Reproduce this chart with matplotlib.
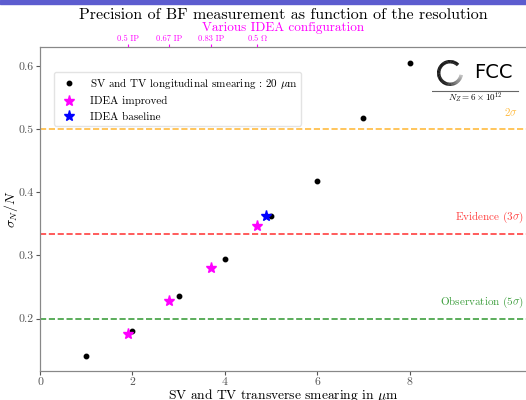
import numpy as np
import matplotlib
matplotlib.use("Agg")
import matplotlib.pyplot as plt
from matplotlib.patches import Wedge, Rectangle
from matplotlib.lines import Line2D

plt.rcParams["font.family"] = ["cmr10", "DejaVu Serif"]
plt.rcParams["mathtext.fontset"] = "cm"
plt.rcParams["axes.unicode_minus"] = False

# longitudinal smearing 20 um scan
sv_x = [1, 2, 3, 4, 5, 6, 7, 8]
sv_y = [0.141, 0.181, 0.235, 0.294, 0.363, 0.418, 0.518, 0.605]
# IDEA configurations
imp_x = [1.9, 2.8, 3.7, 4.7]
imp_y = [0.176, 0.228, 0.280, 0.346]
base_x = [4.9]
base_y = [0.363]
config_labels = ["0.5 IP", "0.67 IP", "0.83 IP", r"0.5 $\Omega$"]

# significance levels
sig_vals = [0.5, 1 / 3, 0.2]
sig_labels = [r"$2\sigma$", r"Evidence $(3\sigma)$", r"Observation $(5\sigma)$"]
sig_colors = ["orange", "red", "green"]
sig_xpos = [10.34, 10.47, 10.47]

fig = plt.figure(figsize=(5.26, 4.0), dpi=100)
ax = fig.add_axes([40 / 526, 29 / 400, 486 / 526, 324 / 400])

for v, lab, c, xp in zip(sig_vals, sig_labels, sig_colors, sig_xpos):
    ax.axhline(v, color=c, ls="--", lw=1.2, alpha=0.75, zorder=1)
    ax.annotate(lab, (xp, v), xytext=(0, 12), textcoords="offset points",
                ha="right", va="center", color=c, alpha=0.75, fontsize=8)

ax.plot(sv_x, sv_y, "o", color="black", ms=3.2, ls="none",
        label=r"SV and TV longitudinal smearing : 20 $\mu$m", zorder=3)
ax.plot(imp_x, imp_y, "*", color="magenta", ms=8, ls="none",
        label="IDEA improved", zorder=3)
ax.plot(base_x, base_y, "*", color="blue", ms=8, ls="none",
        label="IDEA baseline", zorder=3)

ax.set_xlim(0, 10.52)
ax.set_ylim(0.117, 0.63)
ax.set_xticks([0, 2, 4, 6, 8])
ax.set_xticklabels(["0", "2", "4", "6", "8"])
ax.set_yticks([0.2, 0.3, 0.4, 0.5, 0.6])
ax.set_yticklabels(["0.2", "0.3", "0.4", "0.5", "0.6"])
ax.tick_params(labelsize=8.5, colors="#555555", length=3, pad=1.5)
for s in ax.spines.values():
    s.set_color("#888888")
ax.spines["right"].set_visible(False)
ax.set_xlabel(r"SV and TV transverse smearing in $\mu$m", fontsize=9.7)
ax.xaxis.set_label_coords(0.5, -24 / 324)
ax.xaxis.label.set_va("center")
ax.set_ylabel(r"$\sigma_N/N$", fontsize=10)
ax.yaxis.set_label_coords(-29 / 486, 0.5)
ax.yaxis.label.set_va("center")

leg = ax.legend(loc="upper left", fontsize=8, bbox_to_anchor=(0.028, 0.923),
                borderaxespad=0, frameon=True, borderpad=0.35,
                handletextpad=0.9)
leg.get_frame().set_edgecolor("#dddddd")

# top axis: IDEA configurations
ax2 = ax.twiny()
ax2.set_xlim(ax.get_xlim())
ax2.set_xticks(imp_x)
ax2.set_xticklabels(config_labels, fontsize=6, color="magenta")
ax2.tick_params(axis="x", colors="magenta", length=2, pad=1)
for s in ax2.spines.values():
    s.set_color("#888888")
ax2.spines["right"].set_visible(False)
ax2.set_xlabel("Various IDEA configuration", color="magenta", fontsize=9.5)
ax2.xaxis.set_label_coords(0.5, 1 + 19 / 324)
ax2.xaxis.label.set_va("center")

fig.text(283 / 526, 1 - 15 / 400,
         "Precision of BF measurement as function of the resolution",
         fontsize=11.5, ha="center", va="center")

# FCC logo
lax = fig.add_axes([432 / 526, 300 / 400, 90 / 526, 55 / 400])
lax.set_xlim(0, 90)
lax.set_ylim(0, 55)
lax.set_aspect("equal")
lax.axis("off")
n = 80
a0, a1 = 45, 350
for i in range(n):
    t0 = a0 + (a1 - a0) * i / n
    t1 = a0 + (a1 - a0) * (i + 1) / n + 0.6
    g = 0.0 if t0 < 240 else min(0.75, (t0 - 240) / 110 * 0.75)
    lax.add_patch(Wedge((18, 27), 13, t0, t1, width=3.4,
                        color=(g, g, g), lw=0))
lax.text(42, 27, "FCC", fontsize=14, family="DejaVu Sans", va="center",
         ha="left", color="black")
lax.add_line(Line2D([0, 86], [9, 9], color="#666666", lw=0.8))
lax.text(43, 2, r"$N_Z = 6\times10^{12}$", fontsize=6.5, ha="center", va="center")

# slide bar on top
fig.patches.append(Rectangle((0, 0.99), 1, 0.01, transform=fig.transFigure,
                             color="#5c5ccf", zorder=10))

fig.savefig("out.png", dpi=100)
